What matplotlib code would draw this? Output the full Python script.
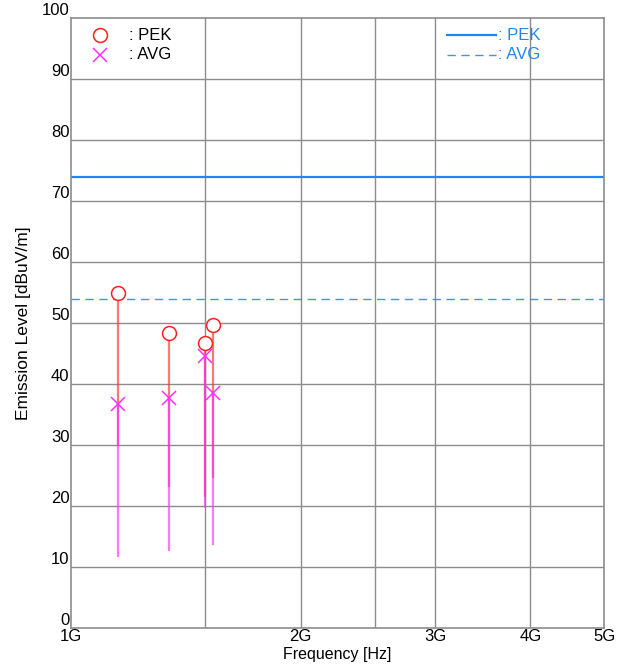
import matplotlib.pyplot as plt
import numpy as np

plt.rcParams['font.family'] = ['Liberation Sans', 'DejaVu Sans']

# measured points (frequency in Hz)
freq = [1.151e9, 1.343e9, 1.497e9, 1.535e9]
pek = [54.9, 48.3, 46.8, 49.7]
avg = [36.7, 37.7, 44.6, 38.6]
# raw readings (bottom of the stems)
pek_read = [29.8, 23.1, 21.5, 24.6]
avg_read = [11.6, 12.6, 19.7, 13.6]

# limits
lim_pek = 74
lim_avg = 54

xticks = [1e9, 2e9, 3e9, 4e9, 5e9]
xticklabels = ['1G', '2G', '3G', '4G', '5G']
xgrid = [1.5e9, 2e9, 2.5e9, 3e9, 4e9]

fig = plt.figure(figsize=(6.3, 6.72), dpi=100)
ax = fig.add_axes([0.1127, 0.0655, 0.8465, 0.9077])

ax.set_xscale('log')
ax.set_xlim(1e9, 5e9)
ax.set_ylim(0, 100)

gc = '#8c8c8c'
for g in xgrid:
    ax.axvline(g, color=gc, lw=1.0, zorder=0)
for y in range(10, 100, 10):
    ax.axhline(y, color=gc, lw=1.0, zorder=0)
for s in ax.spines.values():
    s.set_color(gc)
    s.set_linewidth(1.2)

ax.axhline(lim_pek, color='#1E88F0', lw=1.6, zorder=1)
ax.axhline(lim_avg, color='#4A90E2', lw=1.0, ls=(0, (6, 4)), zorder=1)

ax.vlines(freq, pek_read, pek, color='#FF3030', alpha=0.65, lw=1.6, zorder=2)
ax.vlines(freq, avg_read, avg, color='#FF30FF', alpha=0.65, lw=1.6, zorder=2)
ax.plot(freq, pek, 'o', ms=10, mfc='white', mec='#FF2020', mew=1.1, ls='none', zorder=3)
ax.plot(freq, avg, 'x', ms=10, mec='#FF30FF', mew=1.1, ls='none', zorder=3)

ax.set_xticks(xticks)
ax.set_xticklabels(xticklabels)
ax.xaxis.set_minor_locator(plt.NullLocator())
ax.set_yticks(range(0, 101, 10))
ax.tick_params(length=0, labelsize=12)
ax.tick_params(axis='x', pad=1)
for lab in ax.get_yticklabels():
    lab.set_verticalalignment('bottom')
ax.tick_params(axis='y', pad=1)

ax.set_xlabel('Frequency [Hz]', fontsize=11.5, labelpad=2)
ax.set_ylabel('Emission Level [dBuV/m]', fontsize=12.5, labelpad=8)

# left legend
tr = ax.transAxes
ax.plot([0.055], [0.972], 'o', ms=10, mfc='white', mec='#FF2020', mew=1.1, transform=tr, clip_on=False)
ax.plot([0.055], [0.940], 'x', ms=10, mec='#FF30FF', mew=1.1, transform=tr, clip_on=False)
ax.text(0.108, 0.972, ': PEK', transform=tr, fontsize=12, va='center')
ax.text(0.108, 0.940, ': AVG', transform=tr, fontsize=12, va='center')

# right legend
ax.plot([0.705, 0.797], [0.972, 0.972], color='#1E88F0', lw=1.6, transform=tr)
ax.plot([0.705, 0.797], [0.940, 0.940], color='#4A90E2', lw=1.0, ls=(0, (6, 4)), transform=tr)
ax.text(0.8, 0.972, ': PEK', transform=tr, fontsize=12, va='center', color='#1E88F0')
ax.text(0.8, 0.940, ': AVG', transform=tr, fontsize=12, va='center', color='#1E88F0')

fig.savefig('out.png', dpi=100)
